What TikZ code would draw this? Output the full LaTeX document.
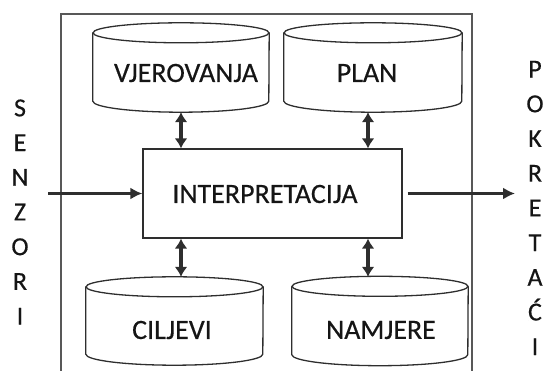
\documentclass[tikz,border=0pt]{standalone}
\usepackage{fontspec}
\setmainfont{Carlito}[FakeBold=0.4]
\usetikzlibrary{arrows.meta,calc}
\definecolor{ink}{HTML}{2E2E2E}
\definecolor{txt}{HTML}{151515}
\tikzset{
  frame/.style={draw=ink!80, line width=1.8pt},
  body/.style={draw=none, minimum width=176pt, minimum height=68pt, inner sep=0pt, text=txt},
  drumline/.style={draw=ink, line width=1.3pt},
  procbox/.style={draw=ink, line width=1.3pt, minimum width=259pt, minimum height=89pt, inner sep=0pt, text=txt},
  dbl/.style={draw=ink, line width=3.4pt, {Latex[length=10pt,width=13pt]}-{Latex[length=10pt,width=13pt]}},
  flow/.style={draw=ink, line width=2.2pt, -{Latex[length=12pt,width=12pt]}},
  letters/.style={align=center, text=txt, font=\fontsize{26}{34.7}\selectfont, inner sep=0pt},
  lbl/.style={font=\fontsize{28}{32}\selectfont}
}
% cylinder outline around a body node: top ellipse, sides and lower rim
\newcommand\drumoutline[3]{%
  \draw[drumline] (#1.north) ellipse [x radius=#2, y radius=10pt];
  \draw[drumline] (#1.north west) -- (#1.south west)
    arc [start angle=180, end angle=360, x radius=#2, y radius=#3]
    -- (#1.north east);
}
\begin{document}
\begin{tikzpicture}[x=1pt,y=1pt]
\useasboundingbox (0,0) rectangle (544,370);
% outer agent frame, open at the bottom
\draw[frame] (61,-2) -- (61,356) -- (472,356) -- (472,-2);

% stores
\node[body, lbl] (v) at (181,303) {};
\node[body, lbl, minimum width=178pt] (p) at (373,303) {};
\node[body, lbl, minimum width=177pt, minimum height=67pt] (c) at (174.5,49.5) {};
\node[body, lbl] (n) at (380,49.5) {};
\drumoutline{v}{88pt}{11pt}
\drumoutline{p}{89pt}{11pt}
\drumoutline{c}{88.5pt}{11pt}
\drumoutline{n}{88pt}{11pt}
\node[lbl, text=txt] (vt) at (186,297) {VJEROVANJA};
\node[lbl, text=txt] (pt) at (367,297) {PLAN};
\node[lbl, text=txt] (ct) at (172,40) {CILJEVI};
\node[lbl, text=txt] (nt) at (381,40) {NAMJERE};

% interpretation unit
\node[procbox] (box) at (272.5,176.5) {};
\node[lbl, text=txt] (bt) at (265,176) {INTERPRETACIJA};

% side labels
\node[letters] (senz) at (20,158) {S\\E\\N\\Z\\O\\R\\I};
\node[letters] (pokr) at (535,162) {P\\O\\K\\R\\E\\T\\A\\Ć\\I};

% connector end points
\coordinate (vb) at ([yshift=-11pt]v.south);
\coordinate (pb) at ([xshift=-5pt,yshift=-11pt]p.south);
\coordinate (ctop) at ([yshift=10pt]c.north);
\coordinate (sen) at (48,176.5);
\coordinate (act) at (515,176.5);
\coordinate (bout) at ([xshift=5pt]box.east);

\draw[dbl] (vb) -- (vb |- box.north);
\draw[dbl] (pb) -- (pb |- box.north);
\draw[dbl] (vb |- box.south) -- (vb |- ctop);
\draw[dbl] (pb |- box.south) -- (pb |- ctop);
\draw[flow] (sen) -- (box.west);
\draw[flow] (bout) -- (act);
\end{tikzpicture}
\end{document}
